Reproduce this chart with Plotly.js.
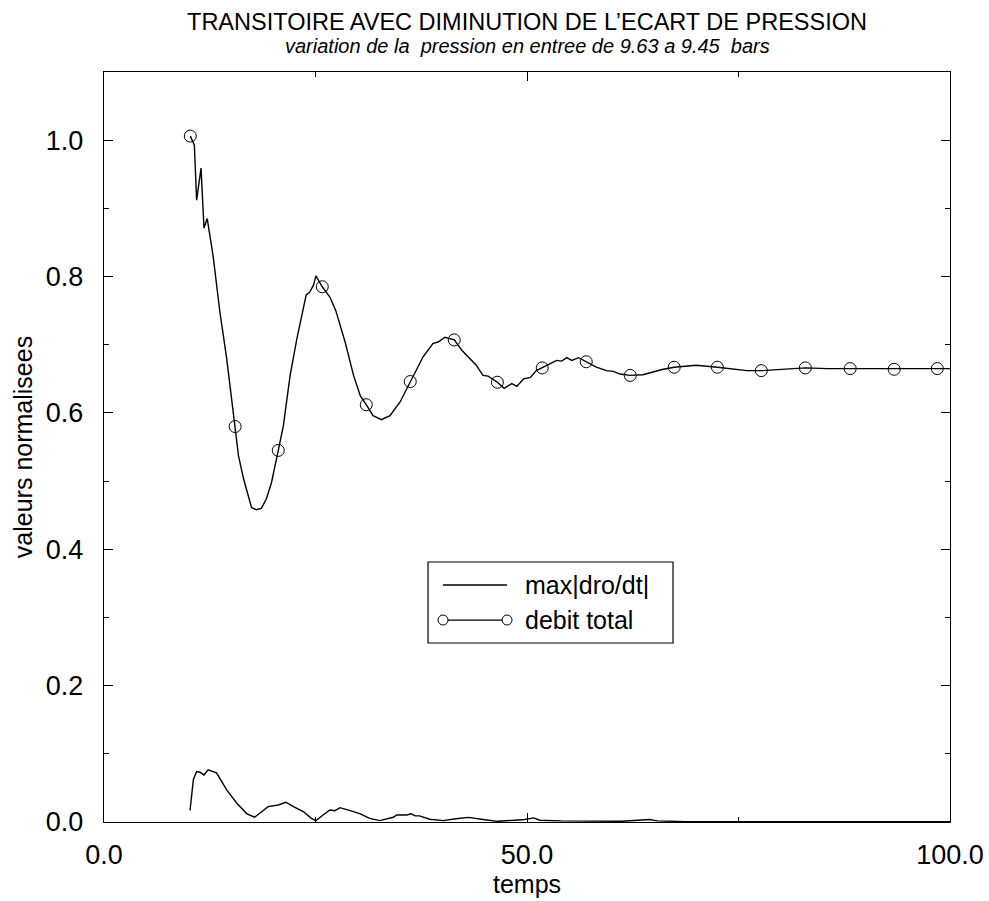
<!DOCTYPE html>
<html>
<head>
<meta charset="utf-8">
<script src="https://cdn.plot.ly/plotly-3.0.1.min.js"></script>
<style>html,body{margin:0;padding:0;background:#fff;}#chart{width:989px;height:901px;}</style>
</head>
<body>
<div id="chart"></div>
<script>
// debit total (dense line)
const debitX = [10.2, 10.68, 10.95, 11.47, 11.82, 12.2, 12.9, 13.7, 14.5, 15.5, 15.9, 16.5, 17.45, 18.0, 18.6, 19.2, 19.8, 20.6, 21.2, 22.0, 22.8, 23.9, 24.3, 24.75, 25.05, 25.8, 26.7, 27.4, 28.5, 29.5, 30.3, 31.0, 31.8, 32.8, 33.8, 35.0, 36.2, 37.7, 38.9, 39.5, 40.3, 41.4, 42.3, 43.1, 44.0, 44.8, 45.4, 46.5, 47.3, 48.2, 48.8, 49.6, 50.4, 51.1, 51.8, 52.7, 53.5, 54.1, 54.7, 55.3, 56.1, 57.0, 58.2, 59.4, 60.2, 61.0, 62.2, 63.7, 64.9, 66.1, 67.4, 70.0, 72.5, 74.4, 76.0, 77.7, 79.9, 82.9, 85.5, 88.2, 91.0, 93.4, 96.0, 98.5, 100];
const debitY = [1.006, 0.993, 0.912, 0.959, 0.871, 0.885, 0.83, 0.748, 0.68, 0.58, 0.537, 0.503, 0.461, 0.458, 0.460, 0.474, 0.498, 0.545, 0.581, 0.655, 0.709, 0.773, 0.777, 0.787, 0.801, 0.785, 0.770, 0.750, 0.704, 0.655, 0.625, 0.612, 0.596, 0.590, 0.596, 0.616, 0.646, 0.682, 0.702, 0.704, 0.711, 0.707, 0.692, 0.682, 0.670, 0.655, 0.654, 0.645, 0.636, 0.643, 0.639, 0.650, 0.652, 0.662, 0.666, 0.672, 0.677, 0.676, 0.681, 0.677, 0.681, 0.675, 0.667, 0.662, 0.661, 0.657, 0.655, 0.656, 0.660, 0.664, 0.667, 0.670, 0.667, 0.664, 0.662, 0.662, 0.664, 0.666, 0.665, 0.665, 0.664, 0.664, 0.664, 0.665, 0.665];
// debit total (circle markers)
const markX = [10.2, 15.5, 20.6, 25.8, 31.0, 36.2, 41.4, 46.5, 51.8, 57.0, 62.2, 67.4, 72.5, 77.7, 82.9, 88.2, 93.4, 98.5];
const markY = [1.006, 0.580, 0.545, 0.785, 0.612, 0.646, 0.707, 0.645, 0.666, 0.675, 0.655, 0.667, 0.667, 0.662, 0.666, 0.665, 0.664, 0.665];
// max|dro/dt|
const droX = [10.17, 10.56, 10.95, 11.35, 11.82, 12.3, 13.3, 14.5, 15.7, 16.9, 17.8, 18.6, 19.4, 20.6, 21.5, 22.4, 23.6, 24.5, 25.05, 25.9, 26.7, 27.3, 27.9, 29.1, 30.3, 31.4, 32.6, 34.2, 34.6, 35.8, 36.3, 36.8, 37.3, 38.5, 40.1, 41.6, 43.1, 44.8, 46.5, 48.6, 49.7, 50.8, 51.5, 54.0, 58.2, 61.2, 64.5, 65.4, 68.8, 75, 85, 100];
const droY = [0.017, 0.062, 0.074, 0.073, 0.069, 0.0765, 0.072, 0.047, 0.0275, 0.012, 0.007, 0.015, 0.0225, 0.025, 0.029, 0.0225, 0.015, 0.0054, 0.002, 0.0103, 0.0176, 0.0166, 0.021, 0.0166, 0.0118, 0.0054, 0.002, 0.0069, 0.0103, 0.0103, 0.012, 0.009, 0.009, 0.004, 0.002, 0.0047, 0.0068, 0.0037, 0.001, 0.0026, 0.0037, 0.006, 0.0026, 0.0016, 0.0016, 0.001, 0.0037, 0.0016, 0.0005, 0.0004, 0.0003, 0.0003];

const titleText = "TRANSITOIRE AVEC DIMINUTION DE L\u2019ECART DE PRESSION";
const subtitleText = "variation de la \u00a0pression en entree de 9.63 a 9.45 \u00a0bars";
const xTitle = "temps";
const yTitle = "valeurs normalisees";
const legendNames = ["max|dro/dt|", "debit total"];

const FONT = "Liberation Sans, Arial, sans-serif";

const traces = [
  {x: droX, y: droY, mode: "lines", line: {color: "#000", width: 1.4}, showlegend: false, hoverinfo: "skip"},
  {x: debitX, y: debitY, mode: "lines", line: {color: "#000", width: 1.4}, showlegend: false, hoverinfo: "skip"},
  {x: markX, y: markY, mode: "markers", marker: {symbol: "circle-open", size: 12, color: "#000", line: {color: "#000", width: 1}}, showlegend: false, hoverinfo: "skip"}
];

// legend box geometry (paper coords)
const lgX0 = 0.383, lgX1 = 0.6726, lgY0 = 0.2387, lgY1 = 0.3467;
const lgLineX0 = 0.4007, lgLineX1 = 0.4764, lgRow1 = 0.316, lgRow2 = 0.2693, lgText = 0.4953;

const shapes = [
  {type: "rect", xref: "paper", yref: "paper", x0: lgX0, x1: lgX1, y0: lgY0, y1: lgY1, line: {color: "#000", width: 1.2}, fillcolor: "#fff", layer: "above"},
  {type: "line", xref: "paper", yref: "paper", x0: lgLineX0, x1: lgLineX1, y0: lgRow1, y1: lgRow1, line: {color: "#000", width: 1.3}},
  {type: "line", xref: "paper", yref: "paper", x0: lgLineX0, x1: lgLineX1, y0: lgRow2, y1: lgRow2, line: {color: "#000", width: 1.3}},
  {type: "circle", xref: "paper", yref: "paper", xsizemode: "pixel", ysizemode: "pixel", xanchor: lgLineX0, yanchor: lgRow2, x0: -5, x1: 5, y0: -5, y1: 5, line: {color: "#000", width: 1}, fillcolor: "#fff"},
  {type: "circle", xref: "paper", yref: "paper", xsizemode: "pixel", ysizemode: "pixel", xanchor: lgLineX1, yanchor: lgRow2, x0: -5, x1: 5, y0: -5, y1: 5, line: {color: "#000", width: 1}, fillcolor: "#fff"}
];

const annotations = [
  {text: "<i>" + subtitleText + "</i>", xref: "paper", yref: "paper", x: 0.5, y: 1.034, xanchor: "center", yanchor: "middle", showarrow: false, font: {family: FONT, size: 20, color: "#000"}},
  {text: legendNames[0], xref: "paper", yref: "paper", x: lgText, y: lgRow1, xanchor: "left", yanchor: "middle", showarrow: false, font: {family: FONT, size: 25, color: "#000"}},
  {text: legendNames[1], xref: "paper", yref: "paper", x: lgText, y: lgRow2, xanchor: "left", yanchor: "middle", showarrow: false, font: {family: FONT, size: 25, color: "#000"}}
];

const layout = {
  width: 989, height: 901,
  margin: {l: 104, r: 39, t: 72, b: 79, pad: 0},
  paper_bgcolor: "#fff", plot_bgcolor: "#fff",
  font: {family: FONT, color: "#000", size: 26},
  title: {text: titleText, xref: "paper", x: 0.5, xanchor: "center", yref: "container", y: 0.9756, yanchor: "middle", font: {family: FONT, size: 23.5, color: "#000"}},
  xaxis: {
    range: [0, 100], dtick: 50, tick0: 0, tickformat: ".1f",
    ticks: "inside", ticklen: 9, tickwidth: 1, tickcolor: "#000",
    minor: {dtick: 25, ticks: "inside", ticklen: 5, tickcolor: "#000", showgrid: false},
    showline: true, linecolor: "#000", linewidth: 1.2, mirror: "ticks",
    showgrid: false, zeroline: false,
    ticklabelstandoff: 8,
    tickfont: {family: FONT, size: 27, color: "#000"},
    title: {text: xTitle, font: {family: FONT, size: 25, color: "#000"}, standoff: 2}
  },
  yaxis: {
    range: [0, 1.1], dtick: 0.2, tick0: 0, tickformat: ".1f",
    ticks: "inside", ticklen: 9, tickwidth: 1, tickcolor: "#000",
    minor: {dtick: 0.1, ticks: "inside", ticklen: 5, tickcolor: "#000", showgrid: false},
    showline: true, linecolor: "#000", linewidth: 1.2, mirror: "ticks",
    showgrid: false, zeroline: false,
    ticklabelstandoff: 14,
    tickfont: {family: FONT, size: 27, color: "#000"},
    title: {text: yTitle, font: {family: FONT, size: 25, color: "#000"}, standoff: 6}
  },
  shapes: shapes,
  annotations: annotations,
  showlegend: false
};

Plotly.newPlot("chart", traces, layout, {staticPlot: true, displayModeBar: false});
</script>
</body>
</html>
